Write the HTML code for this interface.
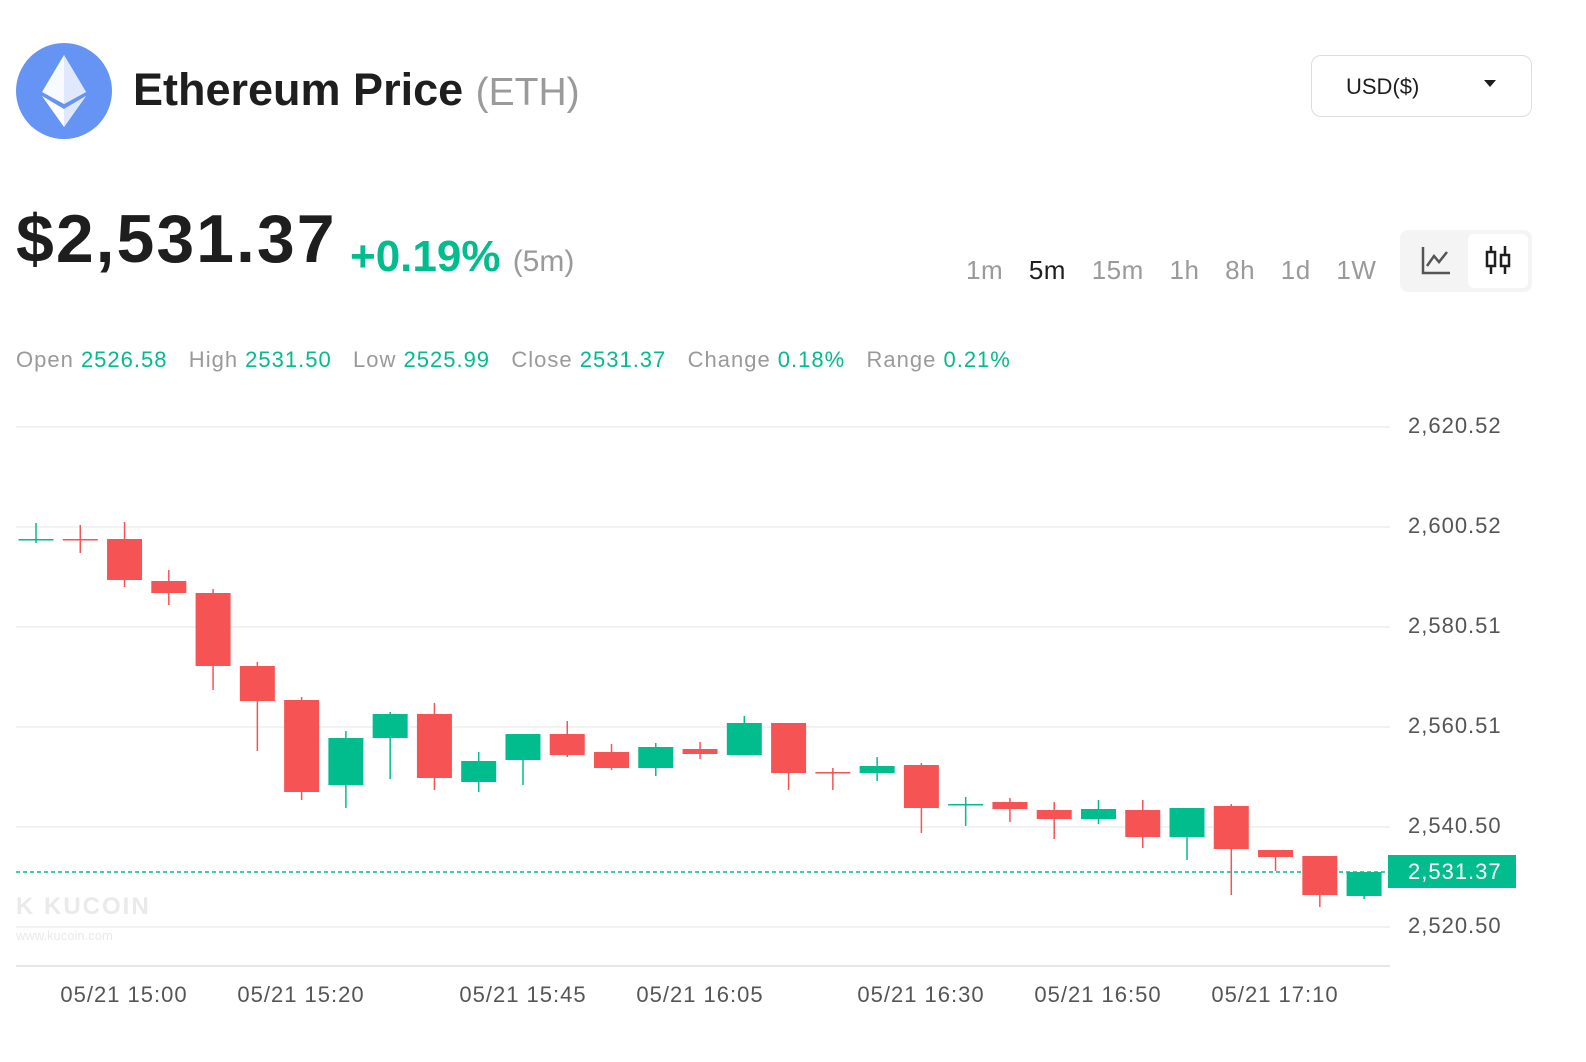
<!DOCTYPE html>
<html><head><meta charset="utf-8"><style>
body{margin:0;width:1586px;height:1062px;background:#fff;font-family:"Liberation Sans",sans-serif;position:relative;overflow:hidden}
.a{position:absolute;white-space:nowrap}
</style></head><body>
<svg class="a" style="left:16px;top:43px" width="96" height="96" viewBox="0 0 96 96">
<circle cx="48" cy="48" r="48" fill="#6594f4"/>
<polygon points="48,12 26,49 48,61 70,49" fill="#fff" opacity="0.95"/>
<polygon points="48,12 48,61 70,49" fill="#dfe8fd"/>
<polygon points="26,53 48,84 70,53 48,66" fill="#fff"/>
<polygon points="48,66 48,84 70,53" fill="#dfe8fd"/>
</svg>
<div class="a" style="left:133px;top:64px;font-size:45px;font-weight:bold;color:#1e1e1e">Ethereum Price <span style="font-weight:normal;color:#9a9a9a;font-size:39px">(ETH)</span></div>
<div class="a" style="left:1311px;top:55px;width:221px;height:62px;border:1.5px solid #ddd;border-radius:10px;box-sizing:border-box"></div>
<div class="a" style="left:1346px;top:74px;font-size:22px;color:#1e1e1e">USD($)</div>
<div class="a" style="left:1484px;top:80px;width:0;height:0;border-left:6px solid transparent;border-right:6px solid transparent;border-top:7px solid #1e1e1e"></div>
<div class="a" style="left:16px;top:200px;font-size:68px;font-weight:bold;color:#1e1e1e;letter-spacing:2px">$2,531.37</div>
<div class="a" style="left:350px;top:232px;font-size:44px;font-weight:bold;color:#01bc8d">+0.19% <span style="font-weight:normal;color:#9a9a9a;font-size:30px">(5m)</span></div>
<div class="a" style="left:966px;top:255px;font-size:26px;color:#9a9a9a;word-spacing:18px;letter-spacing:0.5px">1m <span style="color:#1e1e1e">5m</span> 15m 1h 8h 1d 1W</div>
<div class="a" style="left:1400px;top:230px;width:132px;height:62px;background:#f4f4f4;border-radius:8px"></div>
<div class="a" style="left:1468px;top:234px;width:60px;height:54px;background:#fff;border-radius:6px"></div>
<svg class="a" style="left:1420px;top:244px" width="32" height="32"><path d="M3 3V29H30" stroke="#555" stroke-width="2.5" fill="none"/><path d="M7 22L14 12L19 18L27 8" stroke="#555" stroke-width="2.5" fill="none"/></svg>
<svg class="a" style="left:1484px;top:244px" width="30" height="32"><path d="M7 2V30M21 2V30" stroke="#1e1e1e" stroke-width="2.5"/><rect x="3" y="8" width="8" height="14" fill="#fff" stroke="#1e1e1e" stroke-width="2.5"/><rect x="17" y="11" width="8" height="11" fill="#fff" stroke="#1e1e1e" stroke-width="2.5"/></svg>
<div class="a" style="left:16px;top:347px;font-size:22px;color:#9a9a9a;letter-spacing:1px">Open <span style="color:#01bc8d">2526.58</span>&nbsp;&nbsp; High <span style="color:#01bc8d">2531.50</span>&nbsp;&nbsp; Low <span style="color:#01bc8d">2525.99</span>&nbsp;&nbsp; Close <span style="color:#01bc8d">2531.37</span>&nbsp;&nbsp; Change <span style="color:#01bc8d">0.18%</span>&nbsp;&nbsp; Range <span style="color:#01bc8d">0.21%</span></div>
<div class="a" style="left:16px;top:893px;font-size:24px;font-weight:bold;color:#eaeaea;letter-spacing:2px">K KUCOIN</div>
<div class="a" style="left:16px;top:928px;font-size:13px;color:#eaeaea">www.kucoin.com</div>
<svg class="a" style="left:0;top:0" width="1586" height="1062" font-family="Liberation Sans, sans-serif">
<g stroke="#eeeeee" stroke-width="1.5">
<line x1="16" x2="1390" y1="427" y2="427"/><line x1="16" x2="1390" y1="527" y2="527"/><line x1="16" x2="1390" y1="627" y2="627"/><line x1="16" x2="1390" y1="727" y2="727"/><line x1="16" x2="1390" y1="827" y2="827"/><line x1="16" x2="1390" y1="927" y2="927"/>
</g>
<line x1="16" x2="1390" y1="966" y2="966" stroke="#ddd" stroke-width="1.5"/>
<g font-size="22" fill="#555" letter-spacing="1">
<text x="1408" y="433">2,620.52</text><text x="1408" y="533">2,600.52</text><text x="1408" y="633">2,580.51</text><text x="1408" y="733">2,560.51</text><text x="1408" y="833">2,540.50</text><text x="1408" y="933">2,520.50</text>
<text x="124" y="1002" text-anchor="middle">05/21 15:00</text><text x="301" y="1002" text-anchor="middle">05/21 15:20</text><text x="523" y="1002" text-anchor="middle">05/21 15:45</text><text x="700" y="1002" text-anchor="middle">05/21 16:05</text><text x="921" y="1002" text-anchor="middle">05/21 16:30</text><text x="1098" y="1002" text-anchor="middle">05/21 16:50</text><text x="1275" y="1002" text-anchor="middle">05/21 17:10</text>
</g>
<line x1="16" x2="1390" y1="872" y2="872" stroke="#01bc8d" stroke-width="1.5" stroke-dasharray="4,3"/>
<rect x="1388" y="855" width="128" height="33" fill="#01bc8d"/>
<text x="1408" y="879" font-size="22" fill="#fff" letter-spacing="1">2,531.37</text>
<g id="c"></g>
</svg>
<script>
var d=[["g",539,540,523,543],["r",539,540,525,553],["r",539,580,522,587],["r",581,593,570,605],["r",593,666,589,690],["r",666,701,662,751],["r",700,792,697,800],["g",738,785,731,808],["g",714,738,712,779],["r",714,778,703,790],["g",761,782,752,792],["g",734,760,734,785],["r",734,755,721,757],["r",752,768,744,770],["g",747,768,743,776],["r",749,754,742,759],["g",723,755,716,755],["r",723,773,723,790],["r",772,773,768,790],["g",766,773,757,781],["r",765,808,763,833],["g",804,805,797,826],["r",802,809,798,822],["r",810,819,802,839],["g",809,819,800,824],["r",810,837,800,848],["g",808,837,808,860],["r",806,849,804,895],["r",850,857,850,871],["r",856,895,856,907],["g",872,896,872,899]];
var s="";d.forEach(function(c,i){var x=36+i*44.27,col=c[0]=="g"?"#01bc8d":"#f65454";var h=Math.max(c[2]-c[1],1.5);
s+='<line x1="'+x+'" x2="'+x+'" y1="'+c[3]+'" y2="'+c[4]+'" stroke="'+col+'" stroke-width="1.5"/><rect x="'+(x-17.5)+'" y="'+c[1]+'" width="35" height="'+h+'" fill="'+col+'"/>';});
document.getElementById("c").innerHTML=s;
</script>
</body></html>
